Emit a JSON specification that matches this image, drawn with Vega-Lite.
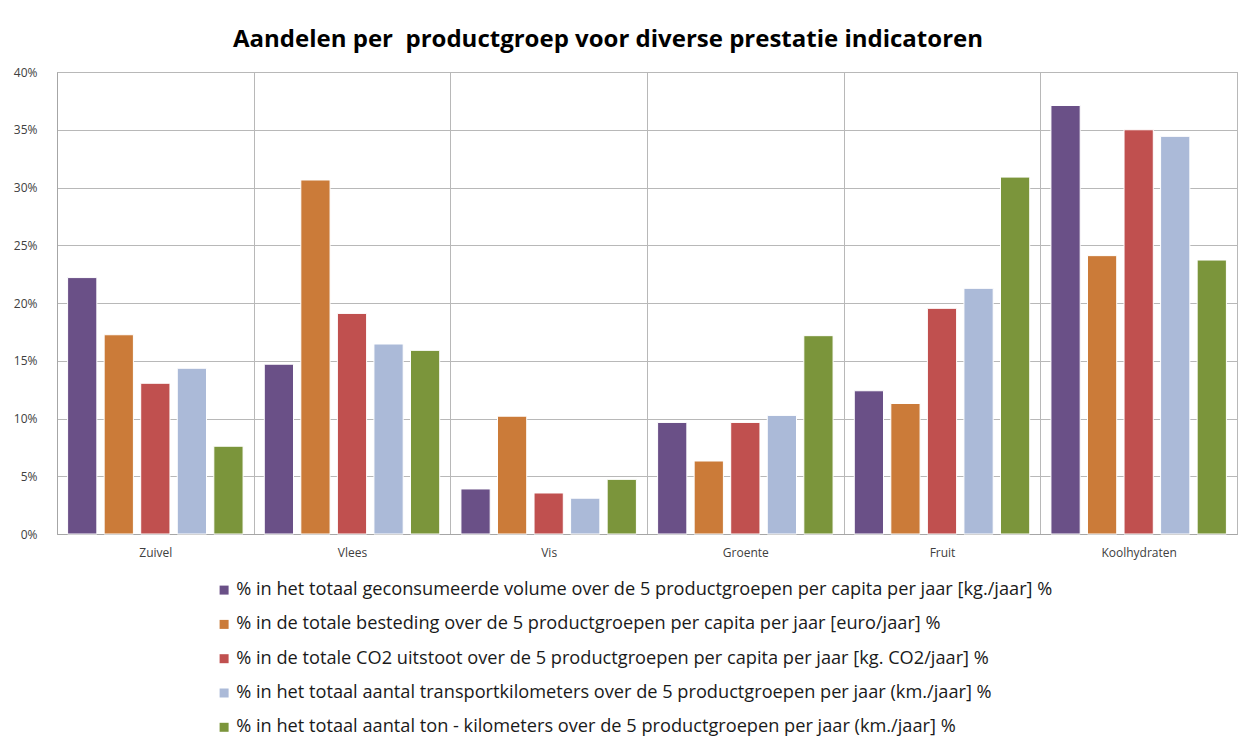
{
  "$schema": "https://vega.github.io/schema/vega-lite/v6.json",
  "width": 1180,
  "height": 462,
  "autosize": {"type": "none"},
  "padding": {"left": 57, "top": 72, "right": 6, "bottom": 208},
  "background": "white",
  "title": {
    "text": "Aandelen per\u00a0 productgroep voor diverse prestatie indicatoren",
    "font": "Open Sans",
    "fontSize": 24,
    "fontWeight": "bold",
    "color": "#000000",
    "anchor": "middle",
    "dx": -39,
    "offset": 14
  },
  "data": {
    "values": [
      {"productgroep": "Zuivel", "indicator": "% in het totaal geconsumeerde volume over de 5 productgroepen per capita per jaar [kg./jaar] %", "aandeel": 0.222},
      {"productgroep": "Zuivel", "indicator": "% in de totale besteding over de 5 productgroepen per capita per jaar [euro/jaar] %", "aandeel": 0.1725},
      {"productgroep": "Zuivel", "indicator": "% in de totale CO2 uitstoot over de 5 productgroepen per capita per jaar [kg. CO2/jaar] %", "aandeel": 0.1305},
      {"productgroep": "Zuivel", "indicator": "% in het totaal aantal transportkilometers over de 5 productgroepen per jaar (km./jaar] %", "aandeel": 0.1435},
      {"productgroep": "Zuivel", "indicator": "% in het totaal aantal ton - kilometers over de 5 productgroepen per jaar (km./jaar] %", "aandeel": 0.076},
      {"productgroep": "Vlees", "indicator": "% in het totaal geconsumeerde volume over de 5 productgroepen per capita per jaar [kg./jaar] %", "aandeel": 0.147},
      {"productgroep": "Vlees", "indicator": "% in de totale besteding over de 5 productgroepen per capita per jaar [euro/jaar] %", "aandeel": 0.3065},
      {"productgroep": "Vlees", "indicator": "% in de totale CO2 uitstoot over de 5 productgroepen per capita per jaar [kg. CO2/jaar] %", "aandeel": 0.191},
      {"productgroep": "Vlees", "indicator": "% in het totaal aantal transportkilometers over de 5 productgroepen per jaar (km./jaar] %", "aandeel": 0.1645},
      {"productgroep": "Vlees", "indicator": "% in het totaal aantal ton - kilometers over de 5 productgroepen per jaar (km./jaar] %", "aandeel": 0.159},
      {"productgroep": "Vis", "indicator": "% in het totaal geconsumeerde volume over de 5 productgroepen per capita per jaar [kg./jaar] %", "aandeel": 0.039},
      {"productgroep": "Vis", "indicator": "% in de totale besteding over de 5 productgroepen per capita per jaar [euro/jaar] %", "aandeel": 0.102},
      {"productgroep": "Vis", "indicator": "% in de totale CO2 uitstoot over de 5 productgroepen per capita per jaar [kg. CO2/jaar] %", "aandeel": 0.0355},
      {"productgroep": "Vis", "indicator": "% in het totaal aantal transportkilometers over de 5 productgroepen per jaar (km./jaar] %", "aandeel": 0.031},
      {"productgroep": "Vis", "indicator": "% in het totaal aantal ton - kilometers over de 5 productgroepen per jaar (km./jaar] %", "aandeel": 0.0473},
      {"productgroep": "Groente", "indicator": "% in het totaal geconsumeerde volume over de 5 productgroepen per capita per jaar [kg./jaar] %", "aandeel": 0.0966},
      {"productgroep": "Groente", "indicator": "% in de totale besteding over de 5 productgroepen per capita per jaar [euro/jaar] %", "aandeel": 0.0632},
      {"productgroep": "Groente", "indicator": "% in de totale CO2 uitstoot over de 5 productgroepen per capita per jaar [kg. CO2/jaar] %", "aandeel": 0.0966},
      {"productgroep": "Groente", "indicator": "% in het totaal aantal transportkilometers over de 5 productgroepen per jaar (km./jaar] %", "aandeel": 0.1027},
      {"productgroep": "Groente", "indicator": "% in het totaal aantal ton - kilometers over de 5 productgroepen per jaar (km./jaar] %", "aandeel": 0.1717},
      {"productgroep": "Fruit", "indicator": "% in het totaal geconsumeerde volume over de 5 productgroepen per capita per jaar [kg./jaar] %", "aandeel": 0.124},
      {"productgroep": "Fruit", "indicator": "% in de totale besteding over de 5 productgroepen per capita per jaar [euro/jaar] %", "aandeel": 0.113},
      {"productgroep": "Fruit", "indicator": "% in de totale CO2 uitstoot over de 5 productgroepen per capita per jaar [kg. CO2/jaar] %", "aandeel": 0.1954},
      {"productgroep": "Fruit", "indicator": "% in het totaal aantal transportkilometers over de 5 productgroepen per jaar (km./jaar] %", "aandeel": 0.2127},
      {"productgroep": "Fruit", "indicator": "% in het totaal aantal ton - kilometers over de 5 productgroepen per jaar (km./jaar] %", "aandeel": 0.309},
      {"productgroep": "Koolhydraten", "indicator": "% in het totaal geconsumeerde volume over de 5 productgroepen per capita per jaar [kg./jaar] %", "aandeel": 0.371},
      {"productgroep": "Koolhydraten", "indicator": "% in de totale besteding over de 5 productgroepen per capita per jaar [euro/jaar] %", "aandeel": 0.241},
      {"productgroep": "Koolhydraten", "indicator": "% in de totale CO2 uitstoot over de 5 productgroepen per capita per jaar [kg. CO2/jaar] %", "aandeel": 0.35},
      {"productgroep": "Koolhydraten", "indicator": "% in het totaal aantal transportkilometers over de 5 productgroepen per jaar (km./jaar] %", "aandeel": 0.3443},
      {"productgroep": "Koolhydraten", "indicator": "% in het totaal aantal ton - kilometers over de 5 productgroepen per jaar (km./jaar] %", "aandeel": 0.2372}
    ]
  },
  "mark": {"type": "bar", "stroke": "white", "strokeWidth": 1},
  "encoding": {
    "x": {
      "field": "productgroep",
      "type": "nominal",
      "sort": ["Zuivel", "Vlees", "Vis", "Groente", "Fruit", "Koolhydraten"],
      "scale": {"paddingInner": 0, "paddingOuter": 0},
      "axis": {
        "title": null,
        "labelAngle": 0,
        "grid": true,
        "tickBand": "extent",
        "ticks": false,
        "gridColor": "#b8b8b8",
        "domainColor": "#a6a6a6",
        "labelFont": "Open Sans",
        "labelFontSize": 12,
        "labelColor": "#404040",
        "labelPadding": 13
      }
    },
    "xOffset": {
      "field": "indicator",
      "type": "nominal",
      "sort": [
        "% in het totaal geconsumeerde volume over de 5 productgroepen per capita per jaar [kg./jaar] %",
        "% in de totale besteding over de 5 productgroepen per capita per jaar [euro/jaar] %",
        "% in de totale CO2 uitstoot over de 5 productgroepen per capita per jaar [kg. CO2/jaar] %",
        "% in het totaal aantal transportkilometers over de 5 productgroepen per jaar (km./jaar] %",
        "% in het totaal aantal ton - kilometers over de 5 productgroepen per jaar (km./jaar] %"
      ],
      "scale": {"paddingInner": 0.2, "paddingOuter": 0.29}
    },
    "y": {
      "field": "aandeel",
      "type": "quantitative",
      "scale": {"domain": [0, 0.4], "nice": false},
      "axis": {
        "title": null,
        "format": ".0%",
        "values": [0, 0.05, 0.1, 0.15, 0.2, 0.25, 0.3, 0.35, 0.4],
        "ticks": false,
        "gridColor": "#b8b8b8",
        "domainColor": "#a6a6a6",
        "labelFont": "Open Sans",
        "labelFontSize": 12,
        "labelColor": "#404040",
        "labelPadding": 20
      }
    },
    "color": {
      "field": "indicator",
      "type": "nominal",
      "scale": {
        "domain": [
          "% in het totaal geconsumeerde volume over de 5 productgroepen per capita per jaar [kg./jaar] %",
          "% in de totale besteding over de 5 productgroepen per capita per jaar [euro/jaar] %",
          "% in de totale CO2 uitstoot over de 5 productgroepen per capita per jaar [kg. CO2/jaar] %",
          "% in het totaal aantal transportkilometers over de 5 productgroepen per jaar (km./jaar] %",
          "% in het totaal aantal ton - kilometers over de 5 productgroepen per jaar (km./jaar] %"
        ],
        "range": ["#6a5087", "#cb7b39", "#c0504f", "#abbad8", "#7b953b"]
      },
      "legend": {
        "title": null,
        "orient": "none",
        "legendX": 158,
        "legendY": 509,
        "direction": "vertical",
        "symbolType": "square",
        "symbolSize": 81,
        "symbolStrokeWidth": 0,
        "labelFont": "Open Sans",
        "labelFontSize": 18.2,
        "labelColor": "#1a1a1a",
        "labelLimit": 1100,
        "labelOffset": 3,
        "rowPadding": 15.3
      }
    }
  },
  "config": {"view": {"stroke": "#a6a6a6"}}
}
